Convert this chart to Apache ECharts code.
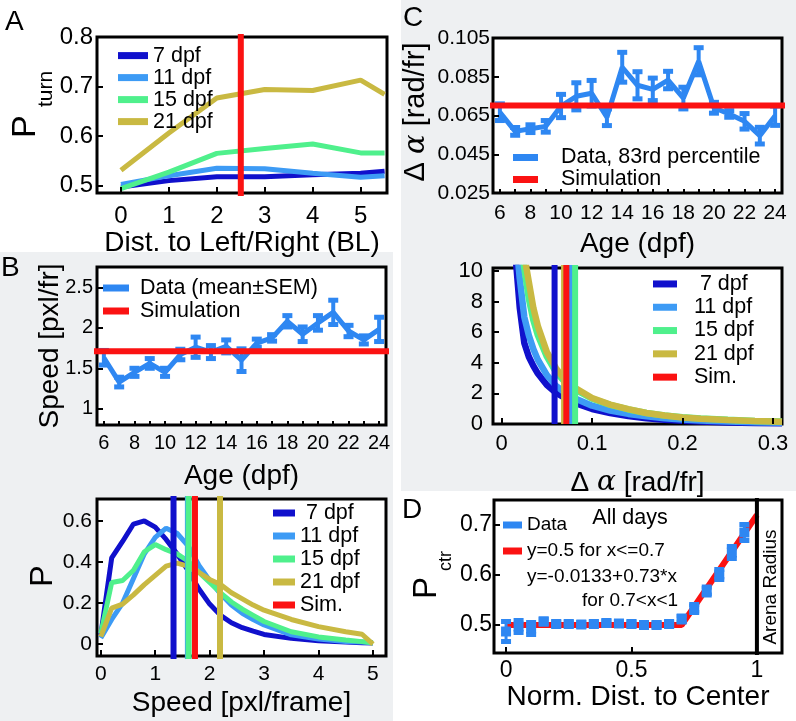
<!DOCTYPE html>
<html><head><meta charset="utf-8">
<script src="https://cdn.jsdelivr.net/npm/echarts@6/dist/echarts.min.js"></script>
<style>html,body{margin:0;padding:0;background:#fff}#c{width:796px;height:721px}</style>
</head><body><div id="c"></div>
<script>
// ---------- Panel A ----------
const aDist = [0, 1, 2, 3, 4, 5, 5.5];
const aP7  = [0.497, 0.510, 0.518, 0.518, 0.522, 0.525, 0.529];
const aP11 = [0.502, 0.520, 0.535, 0.534, 0.525, 0.517, 0.520];
const aP15 = [0.494, 0.527, 0.565, 0.575, 0.584, 0.566, 0.566];
const aP21 = [0.531, 0.606, 0.677, 0.694, 0.692, 0.713, 0.684];
const aBoundary = 2.5;
const aXTicks = [0, 1, 2, 3, 4, 5];
const aYTicks = [0.5, 0.6, 0.7, 0.8];
// ---------- Panel B top ----------
const ages = [6,7,8,9,10,11,12,13,14,15,16,17,18,19,20,21,22,23,24];
const ageLabels = [6,8,10,12,14,16,18,20,22,24];
const bSpeedMean = [1.63,1.33,1.45,1.56,1.45,1.67,1.76,1.70,1.77,1.60,1.81,1.875,2.08,1.92,2.06,2.19,1.96,1.85,1.98];
const bSpeedSem  = [0.09,0.06,0.05,0.06,0.05,0.065,0.125,0.08,0.08,0.14,0.05,0.04,0.07,0.09,0.09,0.15,0.07,0.05,0.15];
const bSimSpeed = 1.71;
const bYTicks = [1, 1.5, 2, 2.5];
// ---------- Panel B bottom ----------
const speedBins = [0,0.2,0.4,0.6,0.8,1.0,1.2,1.4,1.6,1.8,2.0,2.2,2.4,2.6,2.8,3.0,3.5,4.0,4.5,4.8,5.0];
const sp7  = [0.045,0.42,0.50,0.585,0.60,0.57,0.51,0.44,0.36,0.27,0.195,0.14,0.104,0.08,0.063,0.047,0.028,0.016,0.01,0.007,0.005];
const sp11 = [0.03,0.12,0.20,0.32,0.44,0.52,0.565,0.54,0.48,0.385,0.31,0.245,0.19,0.15,0.12,0.093,0.045,0.025,0.013,0.01,0.008];
const sp15 = [0.052,0.30,0.31,0.36,0.45,0.485,0.46,0.44,0.405,0.35,0.30,0.25,0.205,0.17,0.14,0.11,0.06,0.035,0.02,0.012,0.005];
const sp21 = [0.036,0.175,0.195,0.24,0.29,0.335,0.38,0.395,0.38,0.35,0.315,0.29,0.25,0.22,0.19,0.165,0.12,0.085,0.06,0.048,0.0];
const speedMeanLines = {d7: 1.336, d11: 1.60, d15: 1.614, sim: 1.73, d21: 2.19};
const spXTicks = [0,1,2,3,4,5];
const spYTicks = [0,0.2,0.4,0.6];
// ---------- Panel C top ----------
const cTurn    = [0.0667,0.0568,0.0582,0.0594,0.0699,0.0749,0.0765,0.0641,0.0899,0.0806,0.0785,0.0833,0.0740,0.0930,0.0690,0.0658,0.0620,0.0546,0.0649];
const cTurnErr = [0.0043,0.002,0.002,0.003,0.006,0.007,0.0066,0.0043,0.0077,0.007,0.0058,0.0045,0.0056,0.007,0.0028,0.0017,0.004,0.0043,0.005];
const cSimTurn = 0.0701;
const cYTicks = [0.025,0.045,0.065,0.085,0.105];
// ---------- Panel C bottom ----------
const angBins = [0.016,0.02,0.025,0.03,0.035,0.04,0.05,0.06,0.07,0.08,0.1,0.12,0.14,0.16,0.18,0.2,0.22,0.25,0.28,0.31];
const ang7  = [10.5,7.6,5.3,4.4,3.8,3.3,2.55,2.05,1.7,1.4,0.98,0.72,0.52,0.37,0.28,0.21,0.16,0.1,0.07,0.05];
const ang11 = [12,9.5,7.0,5.8,4.9,4.2,3.2,2.5,2.05,1.7,1.2,0.88,0.66,0.5,0.38,0.3,0.23,0.16,0.11,0.08];
const ang15 = [14,12,10.2,8.2,6.8,5.8,4.4,3.4,2.75,2.3,1.65,1.25,0.95,0.72,0.55,0.44,0.36,0.27,0.2,0.16];
const ang21 = [15,13,11,9.3,7.6,6.4,4.7,3.65,2.9,2.4,1.7,1.27,0.97,0.72,0.55,0.43,0.34,0.26,0.2,0.15];
const angMeanLines = {d7: 0.0585, d11: 0.0767, d15: 0.0812, d21: 0.069, sim: 0.0715};
const angXTicks = [0,0.1,0.2,0.3];
const angYTicks = [0,2,4,6,8,10];
// ---------- Panel D ----------
const dDist = [0,0.05,0.1,0.15,0.2,0.25,0.3,0.35,0.4,0.45,0.5,0.55,0.6,0.65,0.7,0.75,0.8,0.85,0.9,0.95];
const dPctr = [0.487,0.497,0.493,0.507,0.502,0.502,0.501,0.502,0.504,0.503,0.502,0.500,0.500,0.502,0.512,0.533,0.568,0.601,0.645,0.685];
const dErr  = [0.02,0.012,0.012,0.005,0.004,0.004,0.004,0.004,0.004,0.004,0.004,0.004,0.004,0.004,0.006,0.008,0.008,0.01,0.012,0.016];
const dFitX = [0, 0.7, 1.0];
const dFitY = [0.5, 0.5, 0.72];
const dArena = 1;
const dXTicks = [0,0.5,1];
const dYTicks = [0.5,0.6,0.7];

// ---------- styling ----------
const FONT = "'Liberation Sans', Arial, Helvetica, sans-serif";
const SERIF = "'DejaVu Serif', 'Liberation Serif', serif";
const C7 = '#1010cc', C11 = '#3d9bf5', C15 = '#4ff08c', C21 = '#c9b942', CRED = '#fb1212', CDATA = '#2e87f2';
const GRAY = '#eef0f2';
const LEG_FS = 21.5, D_FS = 19, TITLE_FS = 28;

const pairs = (xs, ys) => xs.map((x, i) => [x, ys[i]]);
function errRender(color, lw) {
  return function (params, api) {
    const x = api.value(0), m = api.value(1), e = api.value(2);
    const t = api.coord([x, m + e]), b = api.coord([x, m - e]);
    const cw = 10, ch = 5;
    return {type: 'group', children: [
      {type: 'line', shape: {x1: t[0], y1: t[1], x2: b[0], y2: b[1]}, style: {stroke: color, lineWidth: lw}},
      {type: 'rect', shape: {x: t[0] - cw / 2, y: t[1] - ch / 2, width: cw, height: ch}, style: {fill: color}},
      {type: 'rect', shape: {x: b[0] - cw / 2, y: b[1] - ch / 2, width: cw, height: ch}, style: {fill: color}}
    ]};
  };
}
function grid(l, t, w, h) {
  return {left: l, top: t, width: w, height: h, show: true, backgroundColor: '#fff', borderColor: '#000', borderWidth: 3, containLabel: false};
}
function axis(gi, min, max, ticks, labels, fs, margin, fmt, extra, tickLen) {
  const a = {
    gridIndex: gi, type: 'value', min: min, max: max, z: 5,
    axisLine: {show: false, onZero: false}, splitLine: {show: false},
    axisTick: {show: true, inside: true, length: tickLen || 6, customValues: ticks, lineStyle: {color: '#000', width: 2}},
    axisLabel: {customValues: labels, fontSize: fs, fontFamily: FONT, color: '#000', margin: margin, formatter: fmt || (v => String(+(+v).toFixed(4)))}
  };
  return Object.assign(a, extra || {});
}
function xname(name, gap, fs) {
  return {name: name, nameLocation: 'middle', nameGap: gap, nameTextStyle: {fontSize: fs || TITLE_FS, fontFamily: FONT, color: '#000',
    rich: {g: {fontFamily: SERIF, fontStyle: 'italic', fontSize: fs || TITLE_FS, color: '#000'}}}};
}
function line(name, gi, data, color, w, z) {
  return {name: name, type: 'line', xAxisIndex: gi, yAxisIndex: gi, data: data, symbol: 'none', clip: true,
    lineStyle: {color: color, width: w}, itemStyle: {color: color}, z: z || 2, silent: true};
}
function vline(name, gi, x, y0, y1, color, w, z) {
  return line(name, gi, [[x, y0], [x, y1]], color, w, z || 3);
}
function legend(names, left, top, iw, lh, fmt, fs) {
  return {data: names, orient: 'vertical', left: left, top: top, padding: 0, itemGap: 0, itemWidth: iw, itemHeight: 7,
    icon: 'rect', selectedMode: false, formatter: fmt || '{name}',
    textStyle: {fontSize: fs || LEG_FS, fontFamily: FONT, color: '#000', lineHeight: lh}};
}
function txt(text, x, y, fs, align, valign, rot) {
  return {type: 'text', x: x, y: y, rotation: rot || 0, z: 100, silent: true,
    style: {text: text, fontSize: fs, fontFamily: FONT, fill: '#000', align: align, verticalAlign: valign,
      textAlign: align, textVerticalAlign: valign,
      rich: {g: {fontFamily: SERIF, fontStyle: 'italic', fontSize: fs, fill: '#000'}}}};
}

const chart = echarts.init(document.getElementById('c'), null, {renderer: 'canvas'});
const R = Math.PI / 2;
const ageTick = {axisTick: {show: true, inside: true, length: 4, customValues: ages, lineStyle: {color: '#000', width: 2}}};
const option = {
  animation: false,
  grid: [grid(97, 37, 290, 156), grid(97, 267, 289, 158), grid(97, 499, 289, 157),
         grid(493, 38, 289, 155), grid(493, 268, 289, 156), grid(494, 500, 288, 153)],
  xAxis: [
    axis(0, -0.5, 5.55, aXTicks, aXTicks, 24, 11, null, xname('Dist. to Left/Right (BL)', 31)),
    axis(1, 5.55, 24.45, ages, ageLabels, 20, 8, null, Object.assign(xname('Age (dpf)', 37), ageTick)),
    axis(2, -0.07, 5.24, spXTicks, spXTicks, 21, 8, null, xname('Speed [pxl/frame]', 33)),
    axis(3, 5.55, 24.45, ages, ageLabels, 21, 10, null, Object.assign(xname('Age (dpf)', 37), ageTick)),
    axis(4, -0.0096, 0.31, angXTicks, angXTicks, 22, 9, null, xname('Δ {g|α} [rad/fr]', 45)),
    axis(5, -0.048, 1.1, dXTicks, dXTicks, 23, 6, null, xname('Norm. Dist. to Center', 29))
  ],
  yAxis: [
    axis(0, 0.485, 0.8, aYTicks, aYTicks, 24, 4),
    axis(1, 0.8, 2.75, bYTicks, bYTicks, 20, 4),
    axis(2, -0.058, 0.707, spYTicks, spYTicks, 21, 5),
    axis(3, 0.025, 0.105, cYTicks, cYTicks, 21, 3, v => (+v).toFixed(3)),
    axis(4, 0, 10.2, angYTicks, angYTicks, 22, 10),
    axis(5, 0.444, 0.75, dYTicks, dYTicks, 23, 2)
  ],
  legend: [
    legend(['7 dpf', '11 dpf', '15 dpf', '21 dpf'], 118, 44.6, 30, 18.7),
    legend(['Data (mean±SEM)', 'Simulation'], 103, 276.5, 26, 23, ' {name}'),
    legend(['7 dpf', '11 dpf', '15 dpf', '21 dpf', 'Sim.'], 273, 501.5, 22, 23, n => n === '7 dpf' ? ' 7 dpf' : n),
    legend(['Data, 83rd percentile', 'Simulation'], 513, 146.5, 25, 21, '   {name}'),
    legend(['7 dpf', '11 dpf', '15 dpf', '21 dpf', 'Sim.'], 653, 272.3, 24, 23.3, n => n === '7 dpf' ? '   7 dpf' : '  ' + n),
    legend(['Data', 'y=0.5 for x<=0.7'], 503, 512, 19, 26, null, D_FS)
  ],
  graphic: {elements: [
    {type: 'rect', z: -100, silent: true, shape: {x: 0, y: 252, width: 393, height: 469}, style: {fill: GRAY}},
    {type: 'rect', z: -100, silent: true, shape: {x: 401, y: 0, width: 395, height: 491}, style: {fill: GRAY}},
    txt('A', 5, 22, 28, 'left', 'middle'),
    txt('B', 1, 268, 28, 'left', 'middle'),
    txt('C', 403, 18, 28, 'left', 'middle'),
    txt('D', 402, 510, 28, 'left', 'middle'),
    txt('P', 26, 138, 34, 'left', 'middle', R),
    txt('turn', 46, 107, 21, 'left', 'middle', R),
    txt('Speed [pxl/fr]', 50, 346, 28, 'center', 'middle', R),
    txt('P', 43, 576, 32, 'center', 'middle', R),
    txt('Δ {g|α} [rad/fr]', 416, 112, 29, 'center', 'middle', R),
    txt('P', 427, 599, 33, 'left', 'middle', R),
    txt('ctr', 446, 571, 18, 'left', 'middle', R),
    txt('Arena Radius', 771, 587, 19, 'center', 'middle', R),
    txt('All days', 630, 518, 21.5, 'center', 'middle'),
    txt('y=-0.0133+0.73*x', 527, 577, D_FS, 'left', 'middle'),
    txt('for 0.7<x<1', 582, 601, D_FS, 'left', 'middle')
  ]},
  series: [
    // A
    line('7 dpf', 0, pairs(aDist, aP7), C7, 5),
    line('11 dpf', 0, pairs(aDist, aP11), C11, 5),
    line('15 dpf', 0, pairs(aDist, aP15), C15, 5),
    line('21 dpf', 0, pairs(aDist, aP21), C21, 5),
    vline('A boundary', 0, aBoundary, 0.4, 0.9, CRED, 6),
    // B top
    {name: 'errB', type: 'custom', xAxisIndex: 1, yAxisIndex: 1, silent: true, clip: false,
      data: ages.map((a, i) => [a, bSpeedMean[i], bSpeedSem[i]]), renderItem: errRender(CDATA, 4), encode: {x: 0, y: 1}},
    line('Data (mean±SEM)', 1, pairs(ages, bSpeedMean), CDATA, 5),
    line('Simulation', 1, [[5, bSimSpeed], [25, bSimSpeed]], CRED, 6, 4),
    // B bottom
    line('7 dpf', 2, pairs(speedBins, sp7), C7, 5),
    line('11 dpf', 2, pairs(speedBins, sp11), C11, 5),
    line('15 dpf', 2, pairs(speedBins, sp15), C15, 5),
    line('21 dpf', 2, pairs(speedBins, sp21), C21, 5),
    vline('7 dpf', 2, speedMeanLines.d7, -0.1, 0.8, C7, 6),
    vline('11 dpf', 2, speedMeanLines.d11, -0.1, 0.8, C11, 6),
    vline('15 dpf', 2, speedMeanLines.d15, -0.1, 0.8, C15, 6),
    vline('Sim.', 2, speedMeanLines.sim, -0.1, 0.8, CRED, 6),
    vline('21 dpf', 2, speedMeanLines.d21, -0.1, 0.8, C21, 6),
    // C top
    {name: 'errC', type: 'custom', xAxisIndex: 3, yAxisIndex: 3, silent: true, clip: false,
      data: ages.map((a, i) => [a, cTurn[i], cTurnErr[i]]), renderItem: errRender(CDATA, 4), encode: {x: 0, y: 1}},
    line('Data, 83rd percentile', 3, pairs(ages, cTurn), CDATA, 5),
    line('Simulation', 3, [[5, cSimTurn], [25, cSimTurn]], CRED, 6, 4),
    // C bottom
    line('7 dpf', 4, pairs(angBins, ang7), C7, 6.5),
    line('11 dpf', 4, pairs(angBins, ang11), C11, 6.5),
    line('15 dpf', 4, pairs(angBins, ang15), C15, 6.5),
    line('21 dpf', 4, pairs(angBins, ang21), C21, 6.5),
    vline('7 dpf', 4, angMeanLines.d7, 0, 10.4, C7, 6),
    vline('11 dpf', 4, angMeanLines.d11, 0, 10.4, C11, 6),
    vline('15 dpf', 4, angMeanLines.d15, 0, 10.4, C15, 6),
    vline('21 dpf', 4, angMeanLines.d21, 0, 10.4, C21, 6),
    vline('Sim.', 4, angMeanLines.sim, 0, 10.4, CRED, 6),
    // D
    line('y=0.5 for x<=0.7', 5, pairs(dFitX, dFitY), CRED, 6),
    {name: 'errD', type: 'custom', xAxisIndex: 5, yAxisIndex: 5, silent: true, clip: false, z: 4,
      data: dDist.map((x, i) => [x, dPctr[i], dErr[i]]), renderItem: errRender(CDATA, 3), encode: {x: 0, y: 1}},
    {name: 'Data', type: 'scatter', xAxisIndex: 5, yAxisIndex: 5, symbol: 'rect', symbolSize: 10, silent: true, z: 5,
      itemStyle: {color: CDATA, opacity: 1}, data: pairs(dDist, dPctr)},
    vline('Arena', 5, dArena, 0.4, 0.8, '#000', 4, 6)
  ]
};
chart.setOption(option);
</script></body></html>
